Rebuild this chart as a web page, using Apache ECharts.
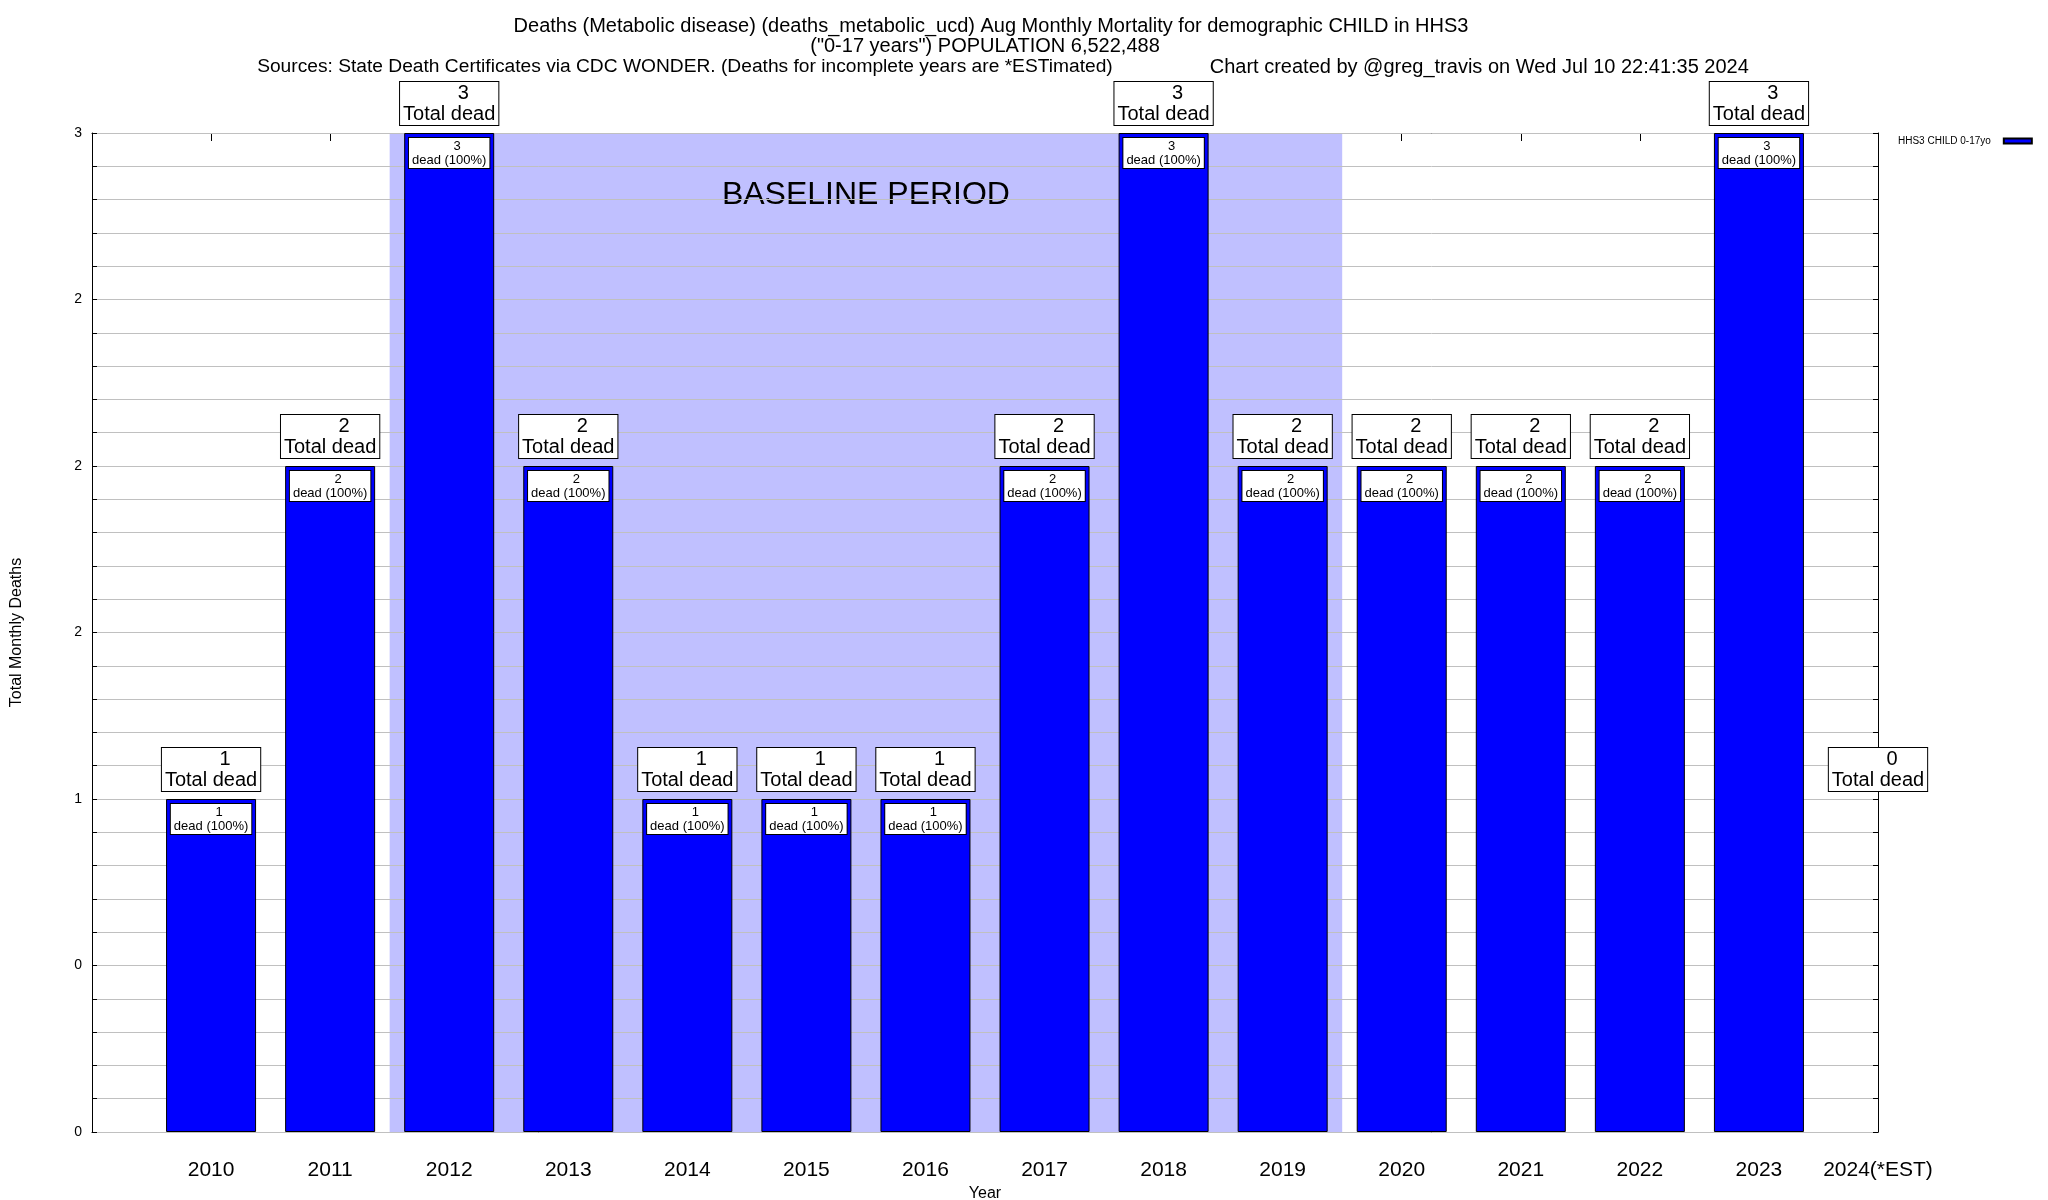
<!DOCTYPE html>
<html>
<head>
<meta charset="utf-8">
<script src="https://cdn.jsdelivr.net/npm/echarts@6/dist/echarts.min.js"></script>
<style>
html,body{margin:0;padding:0;background:#fff;}
#chart{width:2048px;height:1200px;}
</style>
</head>
<body>
<div id="chart"></div>
<script>
// ---- data ----
const years = ['2010','2011','2012','2013','2014','2015','2016','2017','2018','2019','2020','2021','2022','2023','2024(*EST)'];
const firstYear = 2010;
const deaths = [1,2,3,2,1,1,1,2,3,2,2,2,2,3,0];
const percents = [100,100,100,100,100,100,100,100,100,100,100,100,100,100,100];
const yTickLabels = ['0','0','1','2','2','2','3'];
const baselineYears = [2012, 2019];
const seriesName = 'HHS3 CHILD 0-17yo';
const titleLine1 = 'Deaths (Metabolic disease) (deaths_metabolic_ucd) Aug Monthly Mortality for demographic CHILD in HHS3';
const titleLine2 = '("0-17 years") POPULATION 6,522,488';
const sourceText = 'Sources: State Death Certificates via CDC WONDER. (Deaths for incomplete years are *ESTimated)';
const creditText = 'Chart created by @greg_travis on Wed Jul 10 22:41:35 2024';

const FONT = '"Liberation Sans", Arial, Helvetica, sans-serif';
const xMin = firstYear - 1, xMax = firstYear + years.length - 1;

const barData = deaths.map((v, i) => {
  const d = { value: [firstYear + i, v] };
  if (v === 0) { d.label = { show: false }; d.itemStyle = { opacity: 0, borderWidth: 0 }; }
  return d;
});
const totalData = deaths.map((v, i) => ({ value: [firstYear + i, Math.max(v, 1)] }));

const chart = echarts.init(document.getElementById('chart'), null, { renderer: 'canvas' });
const yCommon = {
  type: 'value', min: 0, max: 3, interval: 0.5,
  axisLine: { show: true, lineStyle: { color: '#000', width: 1 } },
  axisTick: { show: true, inside: true, length: 5, lineStyle: { color: '#000' } },
  minorTick: { show: true, splitNumber: 5, length: 5, lineStyle: { color: '#000' } },
};
const titleStyle = { fontFamily: FONT, fontSize: 20, fontWeight: 'normal', color: '#000', lineHeight: 20 };
chart.setOption({
  animation: false,
  backgroundColor: '#fff',
  textStyle: { fontFamily: FONT },
  title: [{
    text: titleLine1, left: 991, top: 16, textAlign: 'center', padding: 0, textStyle: titleStyle
  }, {
    text: titleLine2, left: 985, top: 36, textAlign: 'center', padding: 0, textStyle: titleStyle
  }, {
    text: '{a|' + sourceText + '}{gap|}{b|' + creditText + '}',
    left: 1003, top: 57, textAlign: 'center', padding: 0,
    textStyle: Object.assign({}, titleStyle, {
      rich: {
        a: { fontFamily: FONT, fontSize: 19.2, color: '#000', lineHeight: 20 },
        gap: { width: 97, lineHeight: 20 },
        b: { fontFamily: FONT, fontSize: 20, color: '#000', lineHeight: 20 }
      }
    })
  }],
  legend: {
    left: 1893, top: 131, align: 'right', itemWidth: 28, itemHeight: 5,
    textStyle: { fontFamily: FONT, fontSize: 10, color: '#000', padding: [0, 8, 0, 0] },
    data: [{ name: seriesName, icon: 'rect' }]
  },
  grid: { left: 92, right: 170, top: 133, bottom: 68, containLabel: false, outerBoundsMode: 'none' },
  xAxis: [{
    type: 'value', min: xMin, max: xMax, interval: 1, position: 'bottom',
    name: 'Year', nameLocation: 'middle', nameGap: 51,
    nameTextStyle: { fontFamily: FONT, fontSize: 16, color: '#000' },
    axisLine: { show: true, onZero: false, lineStyle: { color: '#000' } },
    axisTick: { show: false },
    splitLine: { show: false },
    axisLabel: {
      fontFamily: FONT, fontSize: 21, color: '#000', margin: 28,
      formatter: v => years[Math.round(v - firstYear)] || ''
    }
  }, {
    type: 'value', min: xMin, max: xMax, interval: 1, position: 'top',
    axisLine: { show: true, onZero: false, lineStyle: { color: '#000' } },
    axisTick: { show: true, inside: true, length: 8, lineStyle: { color: '#000' } },
    axisLabel: { show: false }, splitLine: { show: false }
  }],
  yAxis: [Object.assign({}, yCommon, {
    position: 'left', z: 1.5,
    name: 'Total Monthly Deaths', nameLocation: 'middle', nameGap: 67, nameRotate: 90,
    nameTextStyle: { fontFamily: FONT, fontSize: 16, color: '#000' },
    axisLabel: { fontFamily: FONT, fontSize: 14, color: '#000', margin: 10,
      formatter: v => yTickLabels[Math.round(v / 0.5)] },
    splitLine: { show: true, lineStyle: { color: '#c0c0c0', width: 1 } },
    minorSplitLine: { show: true, lineStyle: { color: '#c0c0c0', width: 1 } }
  }), Object.assign({}, yCommon, {
    position: 'right', z: 1.6,
    axisLabel: { show: false }, splitLine: { show: false }
  })],
  series: [{
    name: seriesName,
    type: 'bar', xAxisIndex: 0, yAxisIndex: 0, z: 2,
    barWidth: 90,
    itemStyle: { color: '#0000ff', borderColor: '#000', borderWidth: 1 },
    data: barData,
    label: {
      show: true, position: 'insideTop', distance: 5,
      backgroundColor: '#fff', borderColor: '#000', borderWidth: 1,
      padding: [1, 3, 1, 3],
      formatter: p => '{n|' + deaths[p.dataIndex] + '}\n{t|dead (' + percents[p.dataIndex] + '%)}',
      rich: {
        n: { fontFamily: FONT, fontSize: 13, lineHeight: 14, color: '#000', padding: [0, 0, 0, 16] },
        t: { fontFamily: FONT, fontSize: 13, lineHeight: 14, color: '#000' }
      }
    },
    markArea: {
      silent: true, z: 1,
      itemStyle: { color: '#c0c0ff' },
      label: {
        show: true, position: 'insideTop', distance: 46,
        fontFamily: FONT, fontSize: 32, color: '#000'
      },
      data: [[{ name: 'BASELINE PERIOD', xAxis: baselineYears[0] - 0.5, yAxis: 3 },
              { xAxis: baselineYears[1] + 0.5, yAxis: 0 }]]
    }
  }, {
    name: 'total', type: 'scatter', xAxisIndex: 0, yAxisIndex: 0, z: 5,
    symbolSize: 0, silent: true,
    itemStyle: { opacity: 1 },
    data: totalData,
    label: {
      show: true, position: 'top', distance: 8,
      backgroundColor: '#fff', borderColor: '#000', borderWidth: 1,
      padding: [1, 3, 0, 3], opacity: 1,
      formatter: p => '{n|' + deaths[p.dataIndex] + '}\n{t|Total dead}',
      rich: {
        n: { fontFamily: FONT, fontSize: 20, lineHeight: 21, color: '#000', padding: [0, 0, 0, 28] },
        t: { fontFamily: FONT, fontSize: 20, lineHeight: 21, color: '#000' }
      }
    }
  }]
});
</script>
</body>
</html>
